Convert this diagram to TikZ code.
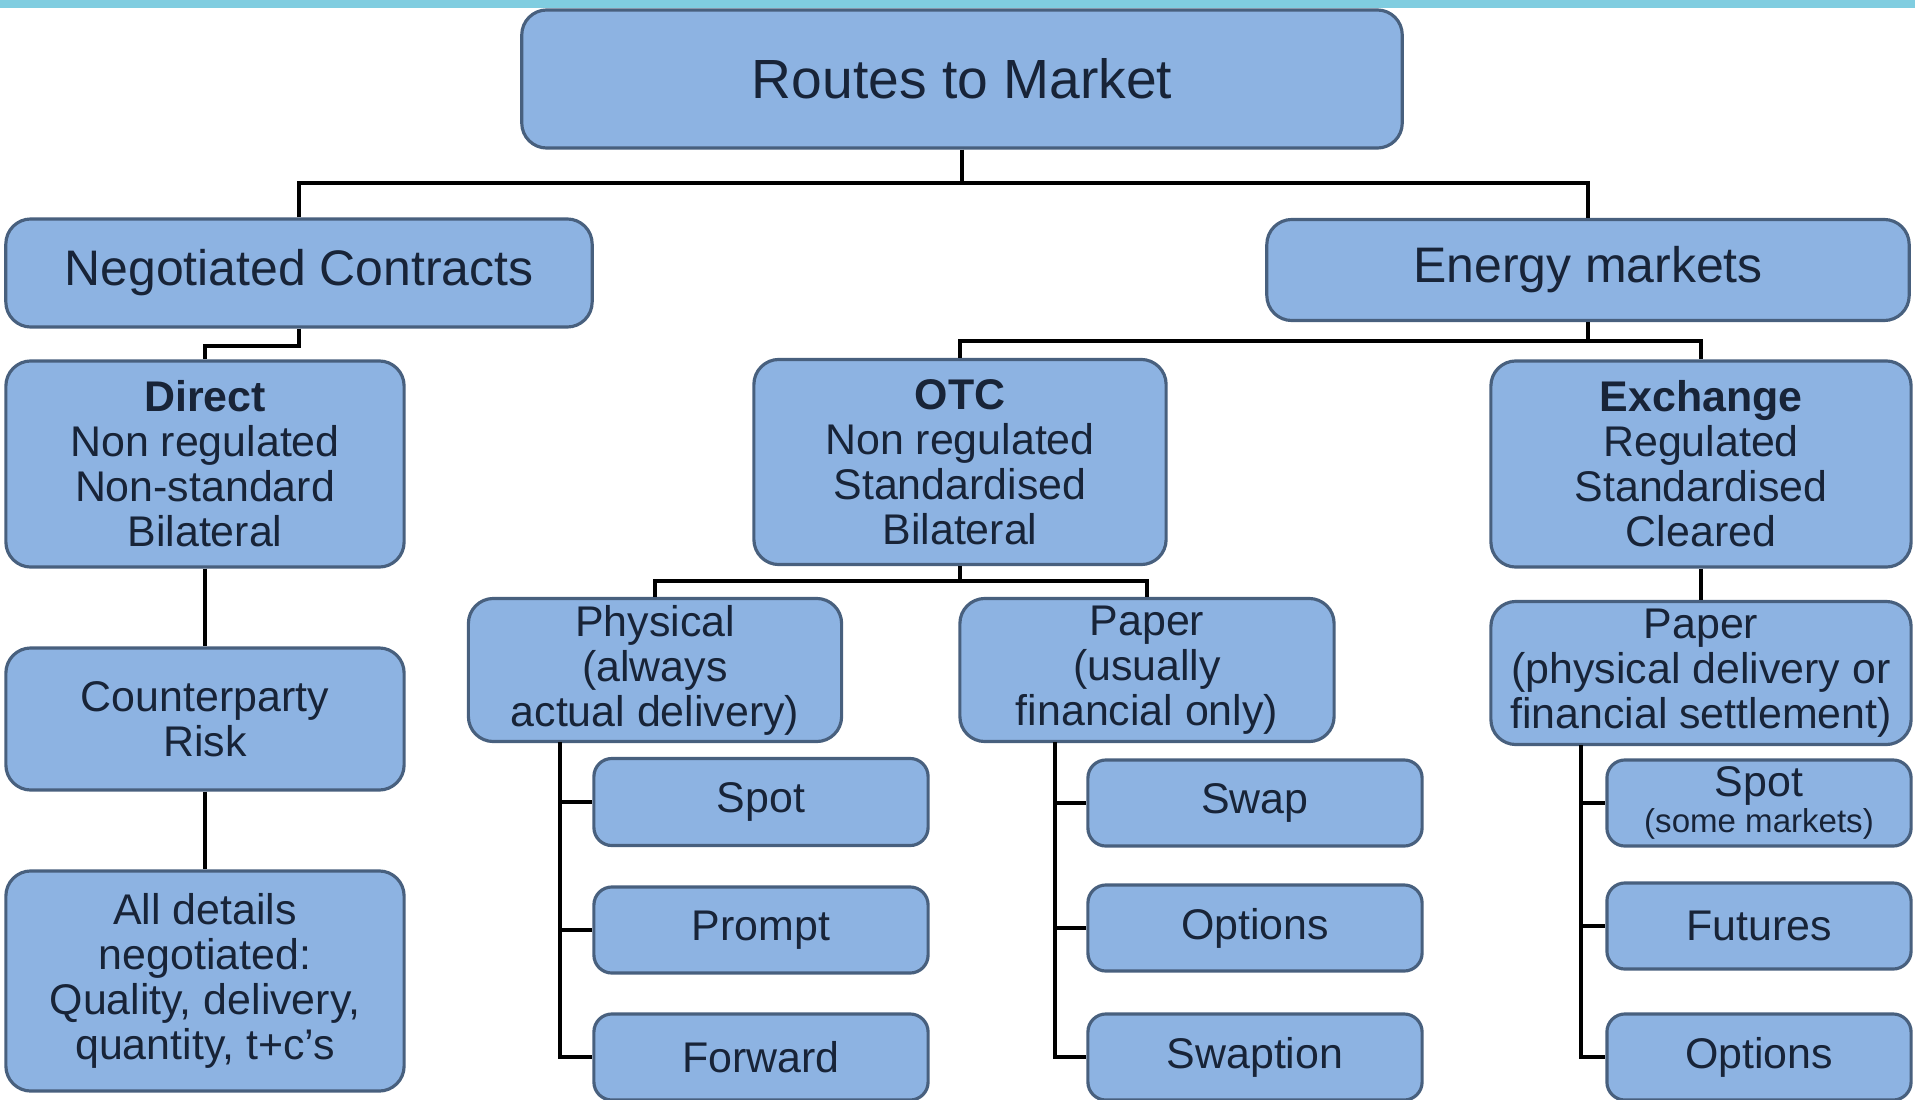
\documentclass[tikz,border=0pt]{standalone}
\usepackage{fontspec}
\setmainfont{Liberation Sans}
\definecolor{boxfill}{RGB}{141,179,226}
\definecolor{boxline}{RGB}{72,96,126}
\definecolor{boxtext}{RGB}{24,36,56}
\definecolor{topbar}{RGB}{128,205,224}

\begin{document}
\begin{tikzpicture}[x=0.01cm, y=-0.01cm,
    box/.style={rectangle, draw=boxline, fill=boxfill, line width=0.9pt,
        rounded corners=0.25cm, align=center, inner sep=0pt, text=boxtext,
        font=\fontsize{12.2}{12.8}\selectfont},
    sz/.style 2 args={minimum width=#1*0.1mm, minimum height=#2*0.1mm},
    leaf/.style={box, rounded corners=0.18cm},
    link/.style={draw=black, line width=1.4pt}]
    \useasboundingbox (0,0) rectangle (1915,1100);
    \fill[topbar] (0,0) rectangle (1915,8);

    \node[box, sz={880}{138}, font=\fontsize{15.7}{16}\selectfont] (root) at (962,79) {Routes to Market};
    \node[box, sz={586}{108}, font=\fontsize{14.2}{15}\selectfont] (neg) at (299,273) {Negotiated Contracts};
    \node[box, sz={642}{101}, font=\fontsize{14.2}{15}\selectfont] (energy) at (1588,270) {Energy markets};

    \node[box, sz={398}{206}] (direct) at (205,464) {\textbf{Direct}\\Non regulated\\Non-standard\\Bilateral};
    \node[box, sz={398}{142}] (cpr) at (205,719) {Counterparty\\Risk};
    \node[box, sz={398}{220}] (details) at (205,981) {All details\\negotiated:\\Quality, delivery,\\quantity, t+c’s};

    \node[box, sz={412}{205}] (otc) at (960,462) {\textbf{OTC}\\Non regulated\\Standardised\\Bilateral};
    \node[box, sz={420}{206}] (exch) at (1701,464) {\textbf{Exchange}\\Regulated\\Standardised\\Cleared};

    \node[box, sz={373}{143}] (phys) at (655,670) {Physical\\(always\\actual delivery)};
    \node[box, sz={374}{143}] (paper) at (1147,670) {Paper\\(usually\\financial only)};
    \node[box, sz={420}{143}] (epaper) at (1701,673) {Paper\\(physical delivery or\\financial settlement)};

    \node[leaf, sz={334}{87}] (spotp) at (761,802) {Spot};
    \node[leaf, sz={334}{86}] (prompt) at (761,930) {Prompt};
    \node[leaf, sz={334}{86}] (fwd) at (761,1057) {Forward};

    \node[leaf, sz={334}{86}] (swap) at (1255,803) {Swap};
    \node[leaf, sz={334}{86}] (optp) at (1255,928) {Options};
    \node[leaf, sz={334}{86}] (swaption) at (1255,1057) {Swaption};

    \node[leaf, sz={304}{86}] (spote) at (1759,803) {Spot\\[-2.5pt]{\fontsize{9.4}{10}\selectfont (some markets)}};
    \node[leaf, sz={304}{86}] (futures) at (1759,926) {Futures};
    \node[leaf, sz={304}{86}] (opte) at (1759,1057) {Options};

    % junctions
    \coordinate (j0) at (962,183);
    \coordinate (j1) at (205,346);
    \coordinate (j2) at (1588,341);
    \coordinate (j3) at (960,581);
    \coordinate (t1) at (560,742);
    \coordinate (t2) at (1055,742);
    \coordinate (t3) at (1581,745);

    \draw[link] (root.south) -- (j0);
    \draw[link] (neg.north) |- (j0) -| (energy.north);
    \draw[link] (neg.south) |- (j1) -- (direct.north);
    \draw[link] (direct) -- (cpr) -- (details);
    \draw[link] (energy.south) -- (j2);
    \draw[link] (otc.north) |- (j2) -| (exch.north);
    \draw[link] (otc.south) -- (j3);
    \draw[link] (phys.north) |- (j3) -| (paper.north);
    \draw[link] (exch) -- (epaper);

    \draw[link] (t1) |- (spotp.west);
    \draw[link] (t1) |- (prompt.west);
    \draw[link] (t1) |- (fwd.west);
    \draw[link] (t2) |- (swap.west);
    \draw[link] (t2) |- (optp.west);
    \draw[link] (t2) |- (swaption.west);
    \draw[link] (t3) |- (spote.west);
    \draw[link] (t3) |- (futures.west);
    \draw[link] (t3) |- (opte.west);
\end{tikzpicture}
\end{document}
